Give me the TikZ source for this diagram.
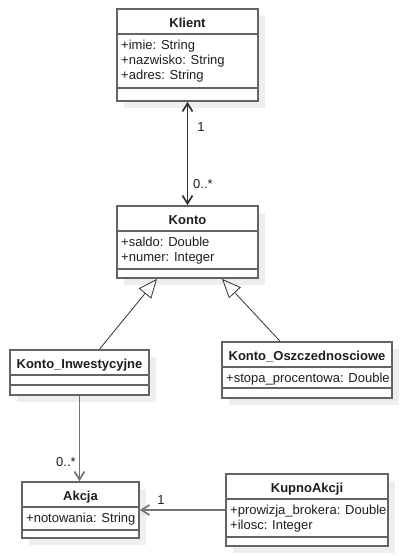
\documentclass[tikz,border=0pt]{standalone}
\usepackage{fontspec}
\setmainfont{Liberation Sans}
\usepackage{tikz}
\usetikzlibrary{positioning, fit, arrows.meta, shadows, calc}
\definecolor{boxgray}{RGB}{100,100,100}
\definecolor{linegray}{RGB}{115,115,115}
\definecolor{shadowgray}{RGB}{238,238,238}
\definecolor{textgray}{RGB}{30,30,30}
% one UML class: name, left, top, right, title line, attr line, bottom, title, attributes
\newcommand{\umlclass}[9]{%
    \node [classbox, fit={(#2,-#3) (#4,-#7)}] (#1) {};
    \draw [classline] (#2,-#5) -- (#4,-#5);
    \draw [classline] (#2,-#6) -- (#4,-#6);
    \node [classtitle] (#1-title) at ({(#2+#4)/2},{-#5+6.5}) {#8};
    \node [classattr] (#1-attr) at ({#2+4},{-#5-15.5}) {\begin{tabular}[t]{@{}l@{}}#9\end{tabular}};
}

\begin{document}
\begin{tikzpicture}[
    % GLOBAL CFG
    x=1pt, y=1pt,
    font=\fontsize{13}{15}\selectfont,
    % Styles
    classbox/.style={% For the class boxes
        rectangle,
        draw=boxgray,
        line width=1.7pt,
        fill=white,
        inner sep=0pt,
        drop shadow={shadow xshift=7pt, shadow yshift=-7pt, fill=shadowgray, opacity=1},
        },
    classline/.style={% compartment separators
        draw=boxgray,
        line width=1.7pt,
        },
    classtitle/.style={% class names
        anchor=base,
        inner sep=0pt,
        font=\fontsize{13}{15}\selectfont\bfseries,
        text=textgray,
        },
    classattr/.style={% attribute lists
        anchor=base west,
        inner sep=0pt,
        text=textgray,
        },
    mult/.style={% multiplicities
        inner sep=1pt,
        text=textgray,
        },
    assoc/.style={% associations
        line width=1.7pt,
        draw=linegray,
        },
    gener/.style={% generalisations
        line width=0.8pt,
        draw=black!80,
        -{Triangle[open, length=19pt, width=16pt]},
        },
    ]

    \useasboundingbox (0,0) rectangle (402,-556);

    % Draw the classes
    \umlclass{klient}{117}{9}{258}{34}{88}{101}{Klient}{+imie: String\\+nazwisko: String\\+adres: String}
    \umlclass{konto}{117}{206}{258}{231}{269}{278}{Konto}{+saldo: Double\\+numer: Integer}
    \umlclass{kinw}{10}{350}{149}{375}{385}{395}{Konto\_Inwestycyjne}{}
    \umlclass{kosz}{222}{342}{392}{367}{388}{398}{Konto\_Oszczednosciowe}{+stopa\_procentowa: Double}
    \umlclass{akcja}{22}{482}{139}{507}{530}{538}{Akcja}{+notowania: String}
    \umlclass{kupno}{226}{474}{388}{499}{537}{546}{KupnoAkcji}{+prowizja\_brokera: Double\\+ilosc: Integer}

    % Associations
    \draw [assoc, draw=black!80, {Straight Barb[length=8pt, width=10pt]}-{Straight Barb[length=8pt, width=10pt]}]
        (klient.south) -- (konto.north);
    \node [mult] (m1) at (201,-127) {1};
    \node [mult] (m2) at (203,-184) {0..*};

    \draw [assoc, -{Straight Barb[length=8pt, width=10pt]}] (kinw.south) -- (kinw.south |- akcja.north);
    \node [mult] (m3) at (66,-462) {0..*};

    \draw [assoc, -{Straight Barb[length=8pt, width=10pt]}] (kupno.west |- akcja.east) -- (akcja.east);
    \node [mult] (m4) at (161,-500) {1};

    % Generalisations
    \draw [gener] ([xshift=20pt]kinw.north) -- ([xshift=-30.5pt]konto.south);
    \draw [gener] ([xshift=-27pt]kosz.north) -- ([xshift=34.5pt]konto.south);
\end{tikzpicture}
\end{document}
